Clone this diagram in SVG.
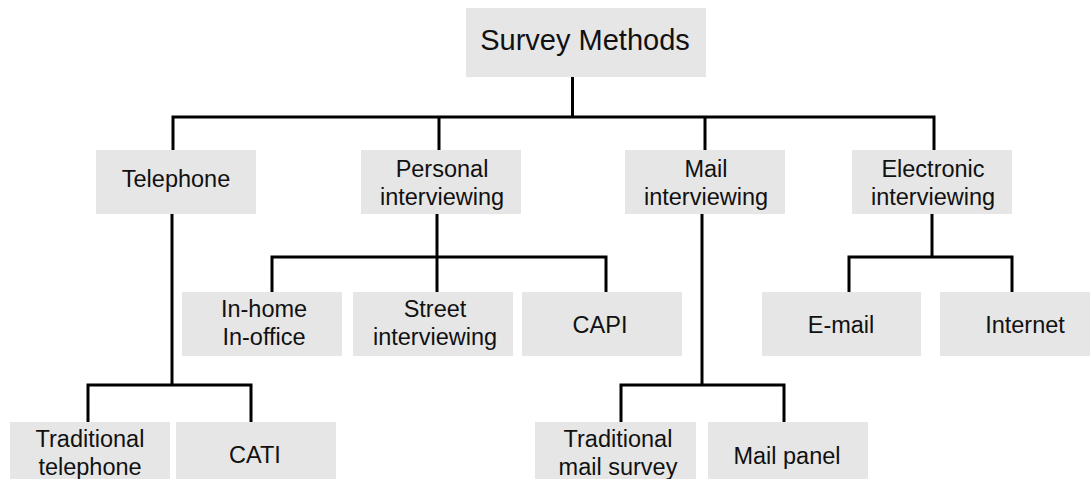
<svg xmlns="http://www.w3.org/2000/svg" width="1090" height="479" viewBox="0 0 1090 479">
<style>
.box{fill:#e6e6e6;}
.t{font-family:"Liberation Sans",Arial,sans-serif;font-size:23.5px;fill:#111;text-anchor:middle;}
.root{font-size:29px;}
.c{fill:none;stroke:#000;stroke-width:3;stroke-linejoin:miter;stroke-linecap:butt;}
</style>
<rect width="1090" height="479" fill="#fff"/>
<g id="connectors">
<path class="c" d="M572.5 77 V117"/>
<path class="c" d="M173 150 V117 H934 V150"/>
<path class="c" d="M439 117 V150"/>
<path class="c" d="M705 117 V150"/>
<path class="c" d="M172 214 V385"/>
<path class="c" d="M88 422 V385 H251 V422"/>
<path class="c" d="M437 214 V292"/>
<path class="c" d="M272 292 V257 H606 V292"/>
<path class="c" d="M702 214 V385"/>
<path class="c" d="M621 422 V385 H784 V422"/>
<path class="c" d="M932 214 V257"/>
<path class="c" d="M849 292 V257 H1012 V292"/>
</g>
<g id="root"><rect class="box" x="466" y="8" width="240" height="69"/><text class="t root" x="585" y="50">Survey Methods</text></g>
<g id="telephone"><rect class="box" x="96" y="150" width="160" height="64"/><text class="t" x="176" y="187">Telephone</text></g>
<g id="personal"><rect class="box" x="361" y="150" width="160" height="64"/><text class="t" x="442" y="177">Personal</text><text class="t" x="442" y="205">interviewing</text></g>
<g id="mail"><rect class="box" x="625" y="150" width="160" height="64"/><text class="t" x="706" y="177">Mail</text><text class="t" x="706" y="205">interviewing</text></g>
<g id="electronic"><rect class="box" x="852" y="150" width="160" height="64"/><text class="t" x="933" y="177">Electronic</text><text class="t" x="933" y="205">interviewing</text></g>
<g id="inhome"><rect class="box" x="182" y="292" width="160" height="64"/><text class="t" x="264" y="317">In-home</text><text class="t" x="264" y="345">In-office</text></g>
<g id="street"><rect class="box" x="353" y="292" width="160" height="64"/><text class="t" x="435" y="317">Street</text><text class="t" x="435" y="345">interviewing</text></g>
<g id="capi"><rect class="box" x="522" y="292" width="160" height="64"/><text class="t" x="600" y="333">CAPI</text></g>
<g id="email"><rect class="box" x="762" y="292" width="159" height="64"/><text class="t" x="841" y="333">E-mail</text></g>
<g id="internet"><rect class="box" x="940" y="292" width="150" height="64"/><text class="t" x="1025" y="333">Internet</text></g>
<g id="tradtel"><rect class="box" x="10" y="422" width="160" height="57"/><text class="t" x="90" y="447">Traditional</text><text class="t" x="90" y="475">telephone</text></g>
<g id="cati"><rect class="box" x="176" y="422" width="160" height="57"/><text class="t" x="255" y="463">CATI</text></g>
<g id="tradmail"><rect class="box" x="535" y="422" width="161" height="57"/><text class="t" x="618" y="447">Traditional</text><text class="t" x="618" y="475">mail survey</text></g>
<g id="mailpanel"><rect class="box" x="708" y="422" width="160" height="57"/><text class="t" x="787" y="464">Mail panel</text></g>
</svg>
